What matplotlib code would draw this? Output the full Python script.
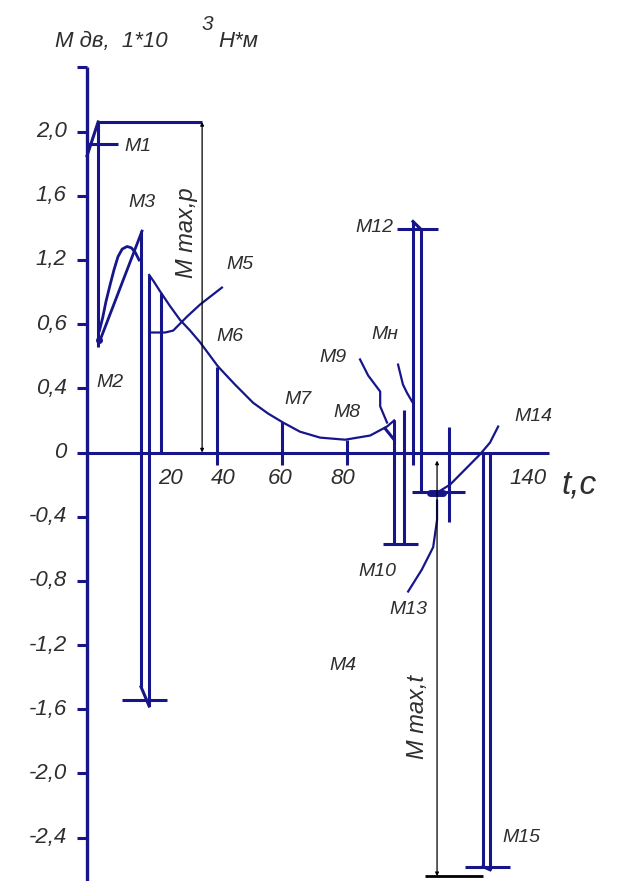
import numpy as np
import matplotlib
matplotlib.use('Agg')
from matplotlib import pyplot as plt

plt.rcParams['font.family'] = ['Liberation Sans', 'DejaVu Sans']

NAVY = '#16168a'
TXT = '#2e2e2e'

# y axis is drawn with equal spacing between uneven tick values
y_tick_vals = [2.4, 2.0, 1.6, 1.2, 0.6, 0.4, 0, -0.4, -0.8, -1.2, -1.6, -2.0, -2.4]
y_tick_labels = ['', '2,0', '1,6', '1,2', '0,6', '0,4', '0', '-0,4', '-0,8', '-1,2', '-1,6', '-2,0', '-2,4']
x_tick_vals = [20, 40, 60, 80, 140]
x_tick_labels = ['20', '40', '60', '80', '140']

scale_vals = [-2.8, -2.4, -2.0, -1.6, -1.2, -0.8, -0.4, 0, 0.4, 0.6, 1.2, 1.6, 2.0, 3.2]
scale_pos = [-7, -6, -5, -4, -3, -2, -1, 0, 1, 2, 3, 4, 5, 8]

# main moment curve M5..M9
curve_t = [19.1, 20.5, 22.5, 25.5, 28.6, 31.7, 34.8, 40.3, 45.5, 51.1, 55.7, 60.3, 65.5, 71.7, 79.4, 87.1, 92.3, 94.5]
curve_m = [1.06, 1.0, 0.905, 0.77, 0.64, 0.58, 0.543, 0.468, 0.412, 0.31, 0.243, 0.187, 0.13, 0.093, 0.08, 0.106, 0.162, 0.2]

# M2 -> M3 rise (straight and looped)
ramp_t = [4.0, 16.9]
ramp_m = [0.55, 1.38]
loop_t = [3.8, 4.8, 5.8, 7.1, 8.3, 9.5, 10.8, 12.3, 13.6, 14.8, 16.0]
loop_m = [0.58, 0.66, 0.81, 0.97, 1.11, 1.22, 1.268, 1.284, 1.276, 1.248, 1.2]

# vertical strokes: t, top, bottom
verticals = [(3.4, 2.06, 0.53), (16.6, 1.38, -1.46), (19.1, 1.06, -1.58), (22.8, 0.89, 0),
             (40, 0.468, -0.075), (60, 0.19, -0.075), (80, 0.08, -0.075),
             (94.5, 0.2, -0.573), (97.5, 0.268, -0.573), (100.3, 1.44, -0.075),
             (102.8, 1.39, -0.243), (111.4, 0.162, -0.43), (121.8, 0, -2.58), (124.0, 0, -2.6)]
# horizontal strokes: m, left, right
horizontals = [(2.06, 3.4, 35.4), (1.92, 0, 9.5), (-1.54, 10.8, 24.6), (-0.573, 91.1, 101.8),
               (1.39, 95.4, 108), (-0.243, 100, 116.3), (-2.58, 116.3, 130)]
# short slanted strokes
slants = [((0, 1.85), (3.4, 2.06)), ((16.6, -1.46), (19.1, -1.58)),
          ((100.3, 1.44), (102.8, 1.39)), ((91.7, 0.15), (94.5, 0.08)), ((124.0, -2.6), (121.8, -2.58))]

# leader lines
leaders = {
    'M5': ([20, 24, 26.5, 30.8, 34.8, 41.5], [0.574, 0.574, 0.58, 0.672, 0.784, 0.942]),
    'M9': ([84, 86.5, 90.2, 90.2, 92.3], [0.49, 0.44, 0.38, 0.288, 0.187]),
    'MH': ([95.7, 97.2, 98.5, 100], [0.474, 0.412, 0.37, 0.318]),
    'M13': ([98.8, 103, 106.5, 107.7, 107.7], [-0.866, -0.73, -0.59, -0.42, -0.3]),
    'M14': ([107.7, 111.7, 116.3, 120.9, 124, 126.5], [-0.25, -0.2, -0.106, -0.012, 0.062, 0.162]),
}

labels = ['M1', 'M2', 'M3', 'M4', 'M5', 'M6', 'M7', 'M8', 'M9', 'Mн', 'M10', 'M12', 'M13', 'M14', 'M15']
label_t = [15.7, 7.1, 16.9, 78.8, 47, 44, 65, 80, 75.7, 91.7, 89.2, 88.3, 98.8, 137.2, 133.8]
label_m = [1.91, 0.418, 1.56, -1.33, 1.16, 0.562, 0.33, 0.25, 0.496, 0.568, -0.74, 1.4, -0.98, 0.224, -2.4]


def fwd(v):
    return np.interp(v, scale_vals, scale_pos)


def inv(u):
    return np.interp(u, scale_pos, scale_vals)


fig = plt.figure(figsize=(6.2, 8.81), dpi=100)
ax = fig.add_axes([0, 0, 1, 1])
ax.set_yscale('function', functions=(fwd, inv))
ax.set_xlim(-26.8, 164)
ax.set_ylim(-2.67, 2.82)
ax.axis('off')

# axes
ax.plot([0, 0], [2.4, -2.67], color=NAVY, lw=2.4, solid_capstyle='butt')
ax.plot([0, 142], [0, 0], color=NAVY, lw=2.2, solid_capstyle='butt')
for v, lab in zip(y_tick_vals, y_tick_labels):
    ax.plot([-3.2, 0], [v, v], color=NAVY, lw=2.2, solid_capstyle='butt')
    ax.text(-6.3, v, lab, ha='right', va='center', fontsize=16, style='italic', color=TXT)

x_off = {20: 5.8, 40: 1.8, 60: -0.6, 80: -1.2, 140: -4.3}
for t, lab in zip(x_tick_vals, x_tick_labels):
    ax.text(t + x_off[t], -0.16, lab, ha='center', va='center', fontsize=16, style='italic', color=TXT)
ax.text(151.5, -0.2, 't,c', ha='center', va='center', fontsize=24, style='italic', color=TXT)

# title
ax.text(-9.8, 2.56, 'M дв,  1*10', ha='left', va='center', fontsize=16, style='italic', color=TXT)
ax.text(35.2, 2.665, '3', ha='left', va='center', fontsize=15, style='italic', color=TXT)
ax.text(40.3, 2.56, 'H*м', ha='left', va='center', fontsize=16, style='italic', color=TXT)

# strokes
for t, top, bot in verticals:
    ax.plot([t, t], [top, bot], color=NAVY, lw=2.2, solid_capstyle='butt')
for m, l, r in horizontals:
    ax.plot([l, r], [m, m], color=NAVY, lw=2.2, solid_capstyle='butt')
for (t1, m1), (t2, m2) in slants:
    ax.plot([t1, t2], [m1, m2], color=NAVY, lw=2.2)

ax.plot(curve_t, curve_m, color=NAVY, lw=1.6)
ax.plot(ramp_t, ramp_m, color=NAVY, lw=2.0)
ax.plot(loop_t, loop_m, color=NAVY, lw=2.0)
for key, (lt, lm) in leaders.items():
    ax.plot(lt, lm, color=NAVY, lw=1.6)

# thick knot on M13
ax.plot([105.5, 109.5], [-0.25, -0.25], color=NAVY, lw=5, solid_capstyle='round')
ax.plot([3.6], [0.55], marker='o', ms=4, color=NAVY)

# dimension lines
ax.plot([104, 121.8], [-2.64, -2.64], color='black', lw=2.0, solid_capstyle='butt')
ax.annotate('', xy=(35.4, 2.06), xytext=(35.4, 0),
            arrowprops=dict(arrowstyle='<|-|>', lw=0.9, color='black', mutation_scale=5,
                            shrinkA=0, shrinkB=0))
ax.annotate('', xy=(107.7, -0.05), xytext=(107.7, -2.64),
            arrowprops=dict(arrowstyle='<|-|>', lw=0.9, color='black', mutation_scale=5,
                            shrinkA=0, shrinkB=0))
ax.text(30.5, 1.37, 'M max,p', rotation=90, ha='center', va='center', fontsize=17,
        style='italic', color=TXT)
ax.text(101.8, -1.645, 'M max,t', rotation=90, ha='center', va='center', fontsize=17,
        style='italic', color=TXT)

for lab, t, m in zip(labels, label_t, label_m):
    ax.text(t, m, lab, ha='center', va='center', fontsize=14, style='italic', color=TXT)

fig.savefig('out.png', dpi=100)
